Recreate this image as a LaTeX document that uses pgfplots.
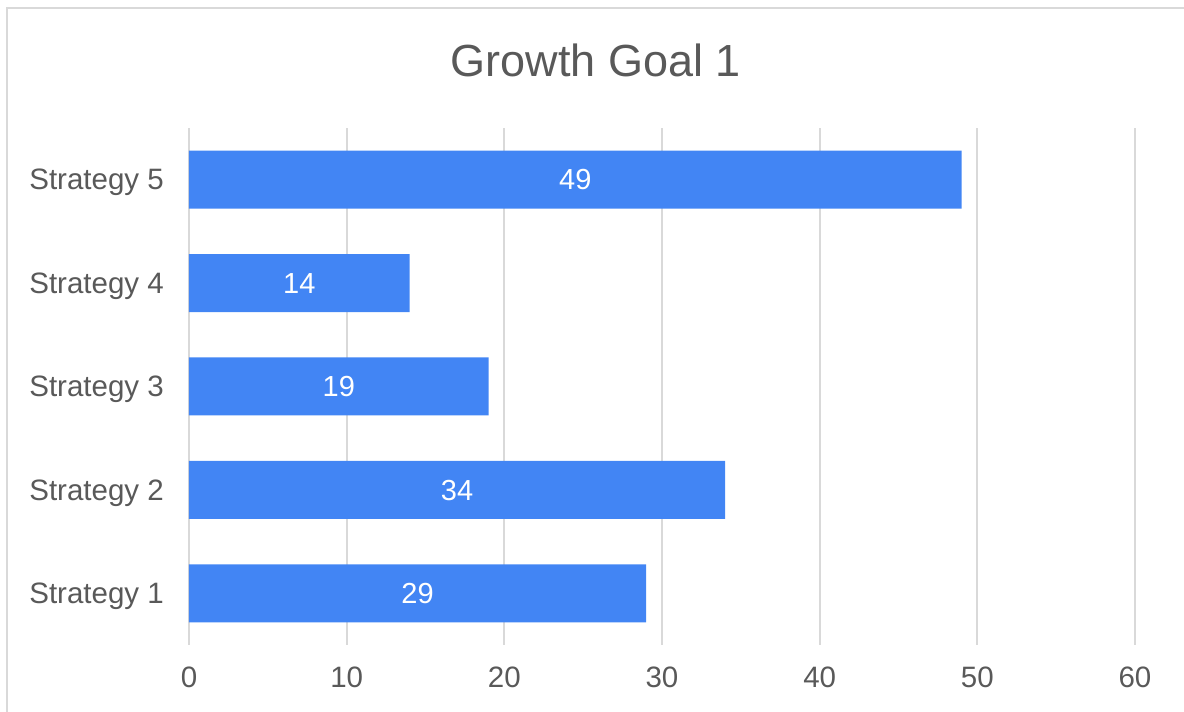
\documentclass[border=0pt]{standalone}
\usepackage{pgfplots}
\pgfplotsset{compat=1.18}
\usepackage{fontspec}
\setmainfont{Liberation Sans}
\definecolor{barblue}{HTML}{4285F4}
\definecolor{gridgray}{HTML}{D9D9D9}
\definecolor{textgray}{HTML}{595959}
\begin{document}
\begin{tikzpicture}[x=1pt,y=1pt]
\useasboundingbox (-189,-67) rectangle (995,645);
\draw[gridgray, line width=2.5pt] (-182,-80) -- (-182,637) -- (1010,637);
\begin{axis}[
  at={(0,0)}, anchor=south west,
  scale only axis,
  width=946pt, height=517pt,
  xbar, bar width=58pt,
  xmin=0, xmax=60, ymin=0.5, ymax=5.5,
  xtick={0,10,...,60},
  ytick={1,2,3,4,5},
  yticklabels={Strategy 1,Strategy 2,Strategy 3,Strategy 4,Strategy 5},
  axis line style={draw=none},
  major tick length=0pt,
  xmajorgrids, ymajorgrids=false,
  grid style={color=gridgray, line width=2pt},
  /pgf/number format/assume math mode=true,
  tick label style={font=\fontsize{29.5}{34}\selectfont, text=textgray},
  yticklabel style={anchor=east, inner sep=0pt, text depth=0pt, xshift=-25pt},
  xticklabel style={anchor=north, inner sep=0pt, yshift=-22pt},
  title={Growth Goal 1},
  title style={at={(0.430,1)}, anchor=center, text depth=0pt, yshift=62pt, font=\fontsize{45}{52}\selectfont, text=textgray},
  visualization depends on={x \as \xval},
  nodes near coords,
  point meta=x,
  nodes near coords style={anchor=center, inner sep=0pt, text depth=0pt, text=white, font=\fontsize{29}{34}\selectfont, xshift={-7.8833pt*\xval}},
]
\addplot[fill=barblue, draw=none] coordinates {(29,1) (34,2) (19,3) (14,4) (49,5)};
\end{axis}
\end{tikzpicture}
\end{document}
